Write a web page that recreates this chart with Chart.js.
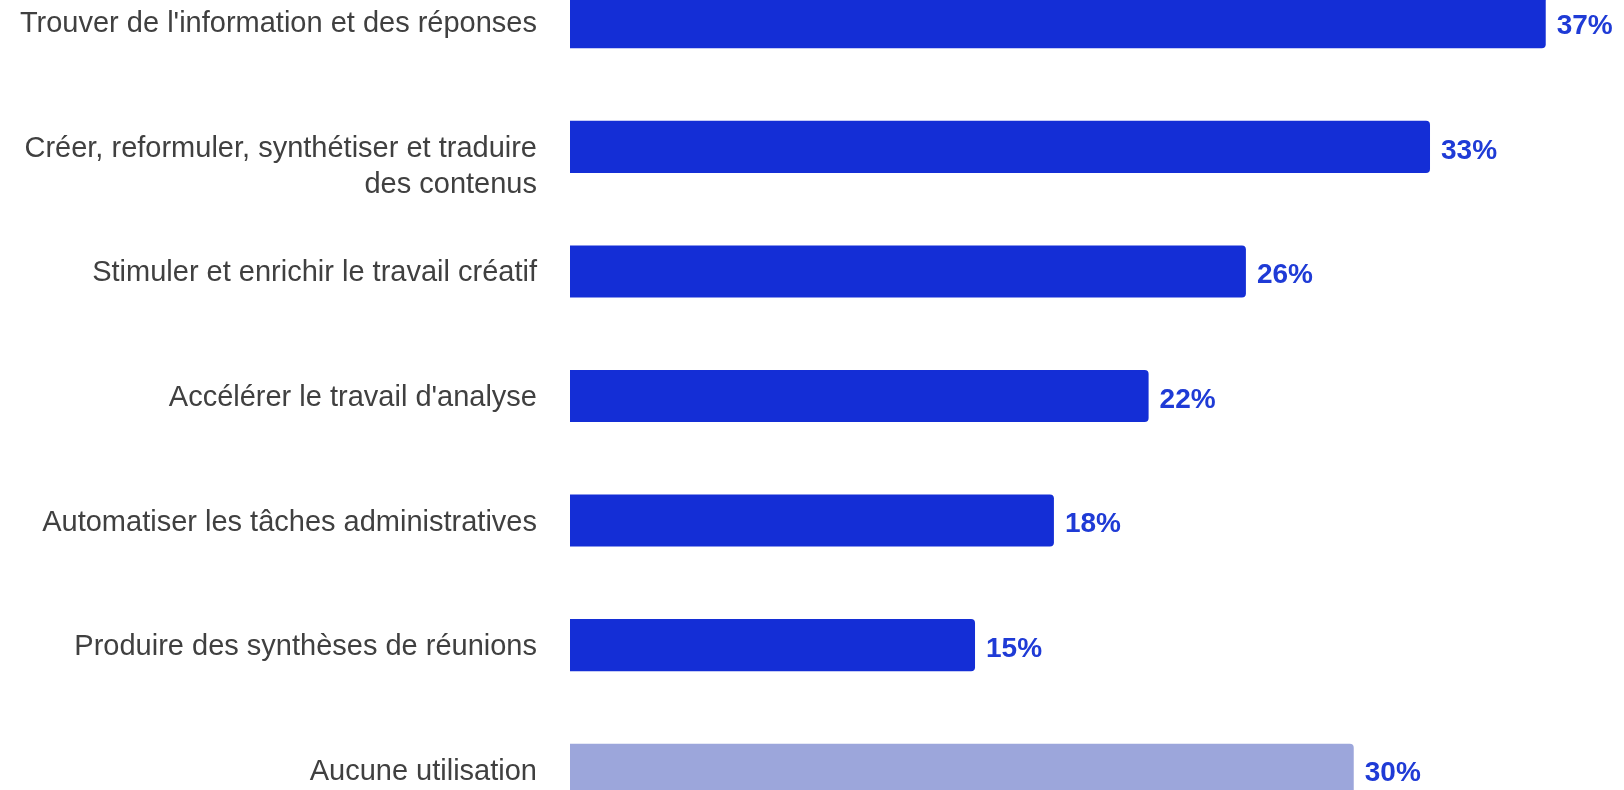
<!DOCTYPE html>
<html>
<head>
<meta charset="utf-8">
<script src="https://cdn.jsdelivr.net/npm/chart.js@4.4.1/dist/chart.umd.min.js"></script>
<style>
  html, body { margin: 0; padding: 0; background: #fff; overflow: hidden; width: 1624px; height: 790px; }
  #wrap { position: absolute; left: 0; top: -40px; width: 1624px; height: 872px; }
</style>
</head>
<body>
<div id="wrap"><canvas id="chart"></canvas></div>
<script>
const categories = [
  "Trouver de l'information et des réponses",
  ["Créer, reformuler, synthétiser et traduire", "des contenus"],
  "Stimuler et enrichir le travail créatif",
  "Accélérer le travail d'analyse",
  "Automatiser les tâches administratives",
  "Produire des synthèses de réunions",
  "Aucune utilisation"
];
const values = [37.1, 32.7, 25.7, 22.0, 18.4, 15.4, 29.8];
const barColors = ['#142ed6', '#142ed6', '#142ed6', '#142ed6', '#142ed6', '#142ed6', '#9ca6db'];

// category names on the left and percentage after each bar
const labelPlugin = {
  id: 'barLabels',
  afterDatasetsDraw(chart) {
    const ctx = chart.ctx;
    const yScale = chart.scales.y;
    const meta = chart.getDatasetMeta(0);
    const left = chart.chartArea.left;
    ctx.save();
    ctx.textBaseline = 'middle';

    ctx.font = '29px "Liberation Sans", Arial, sans-serif';
    ctx.fillStyle = '#404040';
    ctx.textAlign = 'right';
    categories.forEach(function (lab, i) {
      const lines = Array.isArray(lab) ? lab : [lab];
      const cy = yScale.getPixelForValue(i);
      lines.forEach(function (ln, j) {
        ctx.fillText(ln, left - 33, cy + 2 + j * 36.5);
      });
    });

    ctx.font = 'bold 28px "Liberation Sans", Arial, sans-serif';
    ctx.fillStyle = '#1f3bd6';
    ctx.textAlign = 'left';
    meta.data.forEach(function (bar, i) {
      ctx.fillText(Math.round(values[i]) + '%', bar.x + 11, bar.y + 4);
    });
    ctx.restore();
  }
};

new Chart(document.getElementById('chart'), {
  type: 'bar',
  data: {
    labels: categories,
    datasets: [{
      data: values,
      backgroundColor: barColors,
      borderRadius: 4,
      categoryPercentage: 1,
      barPercentage: 0.418
    }]
  },
  options: {
    indexAxis: 'y',
    responsive: true,
    maintainAspectRatio: false,
    animation: false,
    layout: { padding: { left: 570, right: 2, top: 0, bottom: 0 } },
    scales: {
      x: { display: false, min: 0, max: 40 },
      y: { display: false }
    },
    plugins: {
      legend: { display: false },
      tooltip: { enabled: false }
    }
  },
  plugins: [labelPlugin]
});
</script>
</body>
</html>
